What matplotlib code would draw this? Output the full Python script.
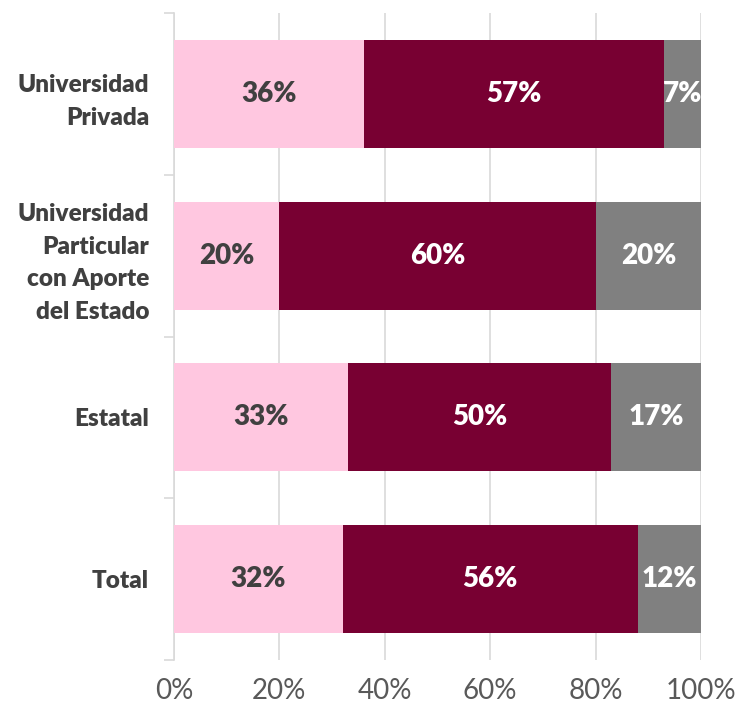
import numpy as np
import matplotlib.pyplot as plt
from matplotlib.ticker import PercentFormatter

plt.rcParams["font.family"] = ["Lato", "DejaVu Sans"]

categories = [
    "Universidad\nPrivada",
    "Universidad\nParticular\ncon Aporte\ndel Estado",
    "Estatal",
    "Total",
]
pink_vals = [36, 20, 33, 32]
maroon_vals = [57, 60, 50, 56]
gray_vals = [7, 20, 17, 12]

series = [
    (pink_vals, "#FFC7E0", "#404040"),
    (maroon_vals, "#780032", "white"),
    (gray_vals, "#808080", "white"),
]

fig = plt.figure(figsize=(7.39, 7.10), dpi=100)
ax = fig.add_axes([0.2355, 0.0704, 0.7131, 0.9113])

y = np.arange(len(categories))
left = np.zeros(len(categories))

for vals, color, txt_color in series:
    vals = np.array(vals, dtype=float)
    ax.barh(y, vals, left=left, height=0.667, color=color, zorder=3)
    for yi, l, v in zip(y, left, vals):
        ax.text(
            l + v / 2, yi, f"{int(v)}%",
            ha="center", va="center",
            color=txt_color, fontsize=20, fontweight="heavy", zorder=4
        )
    left += vals

ax.set_xlim(0, 100)
ax.set_ylim(len(categories) - 0.5, -0.5)

ax.set_xticks(np.arange(0, 101, 20))
ax.xaxis.set_major_formatter(PercentFormatter(decimals=0))
ax.tick_params(axis="x", length=0, labelsize=20, labelcolor="#595959", pad=13)
ax.grid(axis="x", color="#D9D9D9", linewidth=1.2, zorder=0)

ax.set_yticks(y)
ax.set_yticklabels(categories, fontsize=17.5, fontweight="heavy", color="#404040",
                   linespacing=1.6)
ax.set_yticks(np.arange(-0.5, len(categories), 1), minor=True)
ax.tick_params(axis="y", which="major", length=0, pad=18)
ax.tick_params(axis="y", which="minor", length=7, color="#D9D9D9", width=1.2)

for side in ["top", "right", "bottom"]:
    ax.spines[side].set_visible(False)
ax.spines["left"].set_color("#D9D9D9")
ax.spines["left"].set_linewidth(1.2)

fig.savefig("out.png", dpi=100)
